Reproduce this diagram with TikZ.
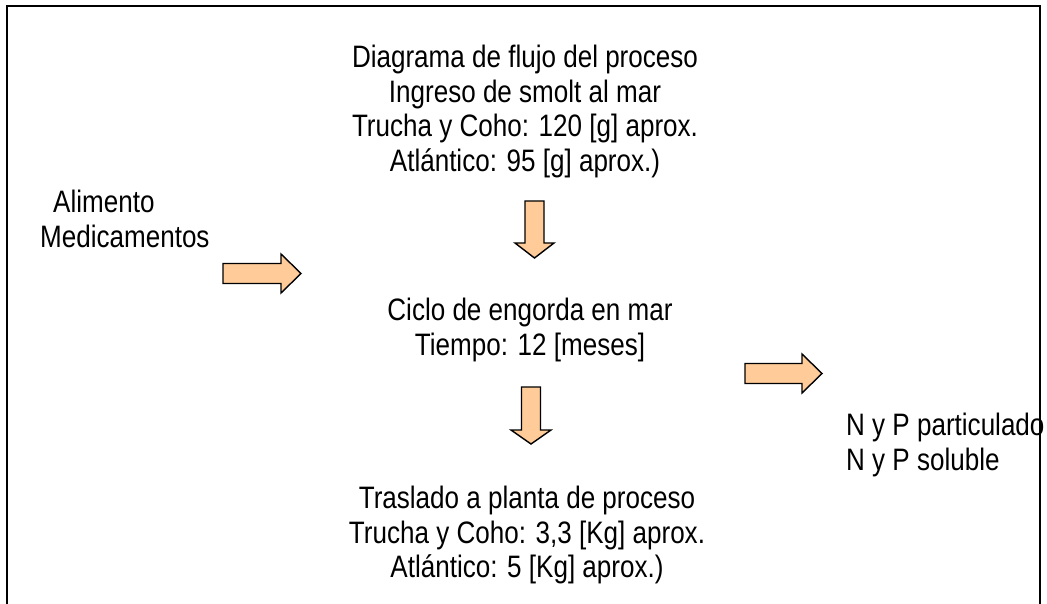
\documentclass[tikz,border=0pt]{standalone}
\usepackage{fontspec}
\setmainfont[FakeStretch=0.84]{Liberation Sans}
\usetikzlibrary{positioning}
\definecolor{flecha}{RGB}{255,204,153}
\tikzset{
    texto/.style={font=\fontsize{31}{34.5}\selectfont, align=center, inner sep=0pt, anchor=north}, % text blocks
    flujo/.style={draw=black, line width=1.4pt, fill=flecha, line join=miter}, % block arrows
}

\begin{document}
\begin{tikzpicture}[x=1pt, y=-1pt]
    \useasboundingbox (0,0) rectangle (1047,604);
    % frame, open at the bottom
    \draw[line width=2pt] (7,604) -- (7,6) -- (1040,6) -- (1040,604);

    \node[texto] (titulo) at (525,45) {Diagrama de flujo del proceso\\Ingreso de smolt al mar\\Trucha y Coho: 120 [g] aprox.\\Atlántico: 95 [g] aprox.)};
    \node[texto] (ciclo) at (530,298) {Ciclo de engorda en mar\\Tiempo: 12 [meses]};
    \node[texto] (traslado) at (527,486) {Traslado a planta de proceso\\Trucha y Coho: 3,3 [Kg] aprox.\\Atlántico: 5 [Kg] aprox.)};
    \node[texto, align=left, anchor=north west] (insumos) at (40,190) {\hspace{13pt}Alimento\\Medicamentos};
    \node[texto, align=left, anchor=north west] (residuos) at (846,413) {N y P particulado\\N y P soluble};

    % block arrows
    \draw[flujo] (223,263.5) -- (281,263.5) -- (281,254) -- (301,273.5) -- (281,293) -- (281,283.5) -- (223,283.5) -- cycle;
    \draw[flujo] (745,363.5) -- (802,363.5) -- (802,354) -- (822,373.5) -- (802,393) -- (802,383.5) -- (745,383.5) -- cycle;
    \draw[flujo] (525,201) -- (544,201) -- (544,243) -- (554,243) -- (534.5,258) -- (515,243) -- (525,243) -- cycle;
    \draw[flujo] (521.5,387) -- (540.5,387) -- (540.5,430) -- (551,430) -- (531,444) -- (511,430) -- (521.5,430) -- cycle;
\end{tikzpicture}
\end{document}
